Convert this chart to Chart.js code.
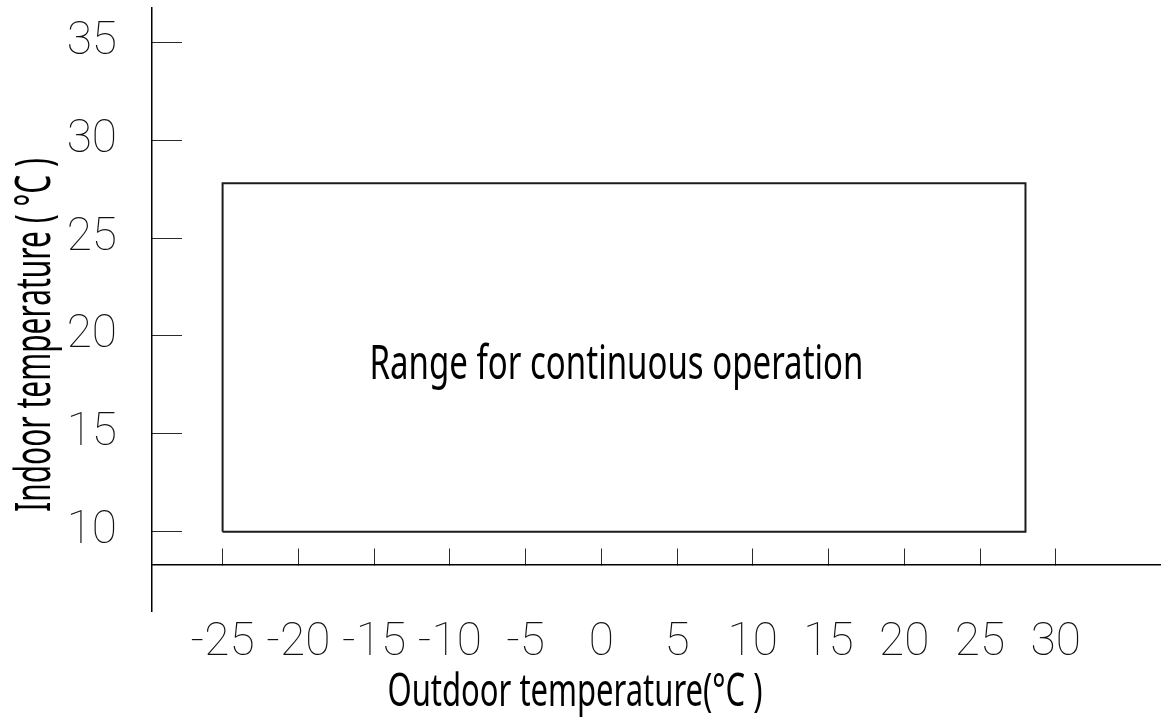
<!DOCTYPE html>
<html>
<head>
<meta charset="utf-8">
<title>Range for continuous operation</title>
<script src="https://cdn.jsdelivr.net/npm/chart.js@4.4.1/dist/chart.umd.min.js"></script>
<style>
  html, body { margin: 0; padding: 0; background: #ffffff; }
  #wrap { width: 1164px; height: 721px; }
</style>
</head>
<body>
<div id="wrap"><canvas id="chart" width="1164" height="721"></canvas></div>
<script>
// Axis tick values
const outdoorTicks = [-25, -20, -15, -10, -5, 0, 5, 10, 15, 20, 25, 30];
const indoorTicks = [10, 15, 20, 25, 30, 35];

// Operating envelope (outdoor °C, indoor °C)
const outdoorRange = [-25, 28];
const indoorRange = [10, 27.8];

// Texts
const rangeLabel = 'Range for continuous operation';
const xTitle = 'Outdoor temperature(°C )';
const yTitle = 'Indoor temperature ( °C )';

// Closed outline of the envelope, built from the two ranges
const envelope = [
  { x: outdoorRange[0], y: indoorRange[0] },
  { x: outdoorRange[1], y: indoorRange[0] },
  { x: outdoorRange[1], y: indoorRange[1] },
  { x: outdoorRange[0], y: indoorRange[1] },
  { x: outdoorRange[0], y: indoorRange[0] }
];

const tickFont = { family: 'Roboto', weight: 100, size: 46 };
const textFamily = '"Noto Sans", "Open Sans", sans-serif';

// Writes a line of text centred on (x, y), squeezed horizontally to a given width
function condensedText(ctx, text, x, y, width, size, angle) {
  ctx.save();
  ctx.font = size + 'px ' + textFamily;
  const natural = ctx.measureText(text).width;
  ctx.translate(x, y);
  if (angle) ctx.rotate(angle);
  ctx.scale(width / natural, 1);
  ctx.fillText(text, 0, 0);
  ctx.restore();
}

// Draws the envelope caption and both axis titles
const captionPlugin = {
  id: 'captions',
  afterDraw(chart, args, opts) {
    const { ctx, scales } = chart;
    ctx.save();
    ctx.fillStyle = '#000000';
    ctx.textAlign = 'center';
    ctx.textBaseline = 'alphabetic';

    condensedText(ctx, rangeLabel,
      scales.x.getPixelForValue(opts.anchor.x),
      scales.y.getPixelForValue(opts.anchor.y),
      opts.anchor.width, 47, 0);

    condensedText(ctx, xTitle, opts.xTitle.x, opts.xTitle.y, opts.xTitle.width, 46, 0);
    condensedText(ctx, yTitle, opts.yTitle.x, opts.yTitle.y, opts.yTitle.width, 50, -Math.PI / 2);
    ctx.restore();
  }
};

function fixedTicks(values) {
  return scale => { scale.ticks = values.map(v => ({ value: v })); };
}

new Chart(document.getElementById('chart'), {
  type: 'scatter',
  data: {
    datasets: [{
      data: envelope,
      showLine: true,
      borderColor: '#1c1c1c',
      borderWidth: 2,
      pointRadius: 0,
      tension: 0,
      fill: false
    }]
  },
  options: {
    responsive: false,
    animation: false,
    devicePixelRatio: 1,
    events: [],
    layout: { padding: { left: 0, top: 8, right: 4, bottom: 110 } },
    plugins: {
      legend: { display: false },
      tooltip: { enabled: false },
      captions: {
        anchor: { x: 1, y: 17.8, width: 494 },
        xTitle: { x: 575, y: 706, width: 375 },
        yTitle: { x: 50, y: 335, width: 354 }
      }
    },
    scales: {
      x: {
        type: 'linear',
        position: { y: 8.3 },
        min: -29.66,
        max: 36.88,
        afterBuildTicks: fixedTicks(outdoorTicks),
        afterFit: s => { s.paddingLeft = 0; s.paddingRight = 0; },
        grid: { drawOnChartArea: false, drawTicks: true, tickLength: -17, color: '#2a2a2a', lineWidth: 1 },
        border: { display: true, color: '#000000', width: 1.5 },
        ticks: { font: tickFont, color: '#111111', padding: 68, maxRotation: 0, autoSkip: false }
      },
      y: {
        type: 'linear',
        position: 'left',
        min: 5.95,
        max: 36.75,
        afterBuildTicks: fixedTicks(indoorTicks),
        afterFit: s => { s.width = 152; s.paddingTop = 0; s.paddingBottom = 0; },
        grid: { drawOnChartArea: false, drawTicks: true, tickLength: -30, color: '#2a2a2a', lineWidth: 1 },
        border: { display: true, color: '#000000', width: 1.5 },
        ticks: { font: tickFont, color: '#111111', padding: 65, autoSkip: false }
      }
    }
  },
  plugins: [captionPlugin]
});
</script>
</body>
</html>
